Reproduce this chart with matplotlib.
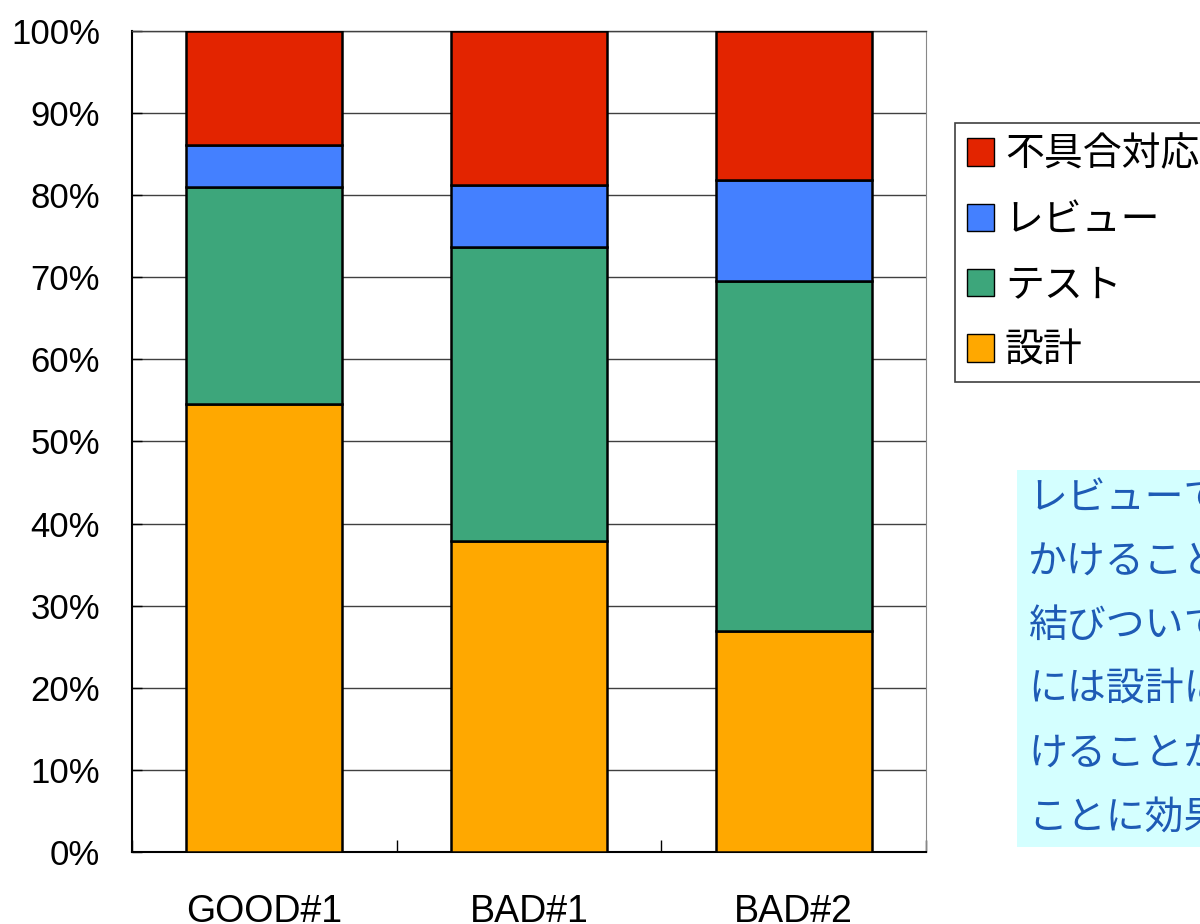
import numpy as np
import matplotlib.pyplot as plt
from matplotlib.patches import Rectangle
from matplotlib.ticker import FixedLocator, PercentFormatter

plt.rcParams['font.family'] = ['Liberation Sans', 'Noto Sans CJK JP', 'DejaVu Sans']

# projects on the x axis
projects = ["GOOD#1", "BAD#1", "BAD#2"]

# share of effort per phase (%), stacked bottom to top
design = [54.6, 37.9, 26.9]
test = [26.4, 35.8, 42.6]
review = [5.1, 7.5, 12.4]
defects = [13.9, 18.8, 18.1]

phase_names = ["設計", "テスト", "レビュー", "不具合対応"]
phase_colors = ["#FFA800", "#3DA67B", "#4480FF", "#E32400"]

note_lines = ["レビューで時間を",
              "かけることが品質に",
              "結びついている。BAD",
              "には設計に時間をか",
              "けることがなかった",
              "ことに効果が見られる"]

fig = plt.figure(figsize=(12, 9.24), dpi=100)
ax = fig.add_axes([0.11, 0.0779, 0.6617, 0.8886])

x = np.arange(len(projects))
bottom = np.zeros(len(projects))
handles = []
for name, vals, col in zip(phase_names, [design, test, review, defects],
                           phase_colors):
    bars = ax.bar(x, vals, width=0.59, bottom=bottom, color=col,
                  edgecolor="black", linewidth=1.8, label=name, zorder=3)
    handles.append(bars)
    bottom += np.array(vals)

ax.set_xlim(-0.5, 2.5)
ax.set_ylim(0, 100)

# y axis: 10% steps with gridlines
ax.set_yticks(np.arange(0, 101, 10))
ax.yaxis.set_major_formatter(PercentFormatter(decimals=0))
ax.yaxis.grid(True, color="#404040", linewidth=1.0, zorder=0)
ax.tick_params(axis="y", direction="in", length=7, width=1, pad=23,
               labelsize=25)

# x axis: labels at categories, small ticks between them
ax.set_xticks(x)
ax.set_xticklabels(projects)
ax.xaxis.set_minor_locator(FixedLocator([-0.5, 0.5, 1.5, 2.5]))
ax.tick_params(axis="x", which="major", length=0, pad=30, labelsize=27)
ax.tick_params(axis="x", which="minor", direction="in", length=9, width=1)

for side in ["left", "bottom"]:
    ax.spines[side].set_color("black")
    ax.spines[side].set_linewidth(1.5)
ax.spines["right"].set_color("#888888")
ax.spines["top"].set_color("#404040")
ax.spines["top"].set_linewidth(1.0)

leg = ax.legend(handles[::-1], phase_names[::-1], loc="upper left",
                bbox_to_anchor=(955 / 1200, 1 - 123 / 924),
                bbox_transform=fig.transFigure,
                prop={"family": "Noto Sans CJK JP", "size": 28},
                fancybox=False, framealpha=1, edgecolor="#404040",
                handlelength=0.7, handleheight=0.7, handletextpad=0.28,
                labelspacing=0.65, borderpad=0.3, borderaxespad=0)
leg.get_frame().set_linewidth(1.2)
for h in leg.legend_handles:
    h.set_linewidth(1.0)

# note box on the right
fig.patches.append(Rectangle((1017 / 1200, 1 - 847 / 924), 0.3, 377 / 924,
                             transform=fig.transFigure, facecolor="#D4FFFF",
                             edgecolor="none", zorder=0))
for i, line in enumerate(note_lines):
    fig.text(1028 / 1200, 1 - (498 + 64 * i) / 924, line,
             family="Noto Sans CJK JP", fontsize=28, color="#1E5BB5",
             ha="left", va="center")

fig.savefig("out.png", dpi=100)
